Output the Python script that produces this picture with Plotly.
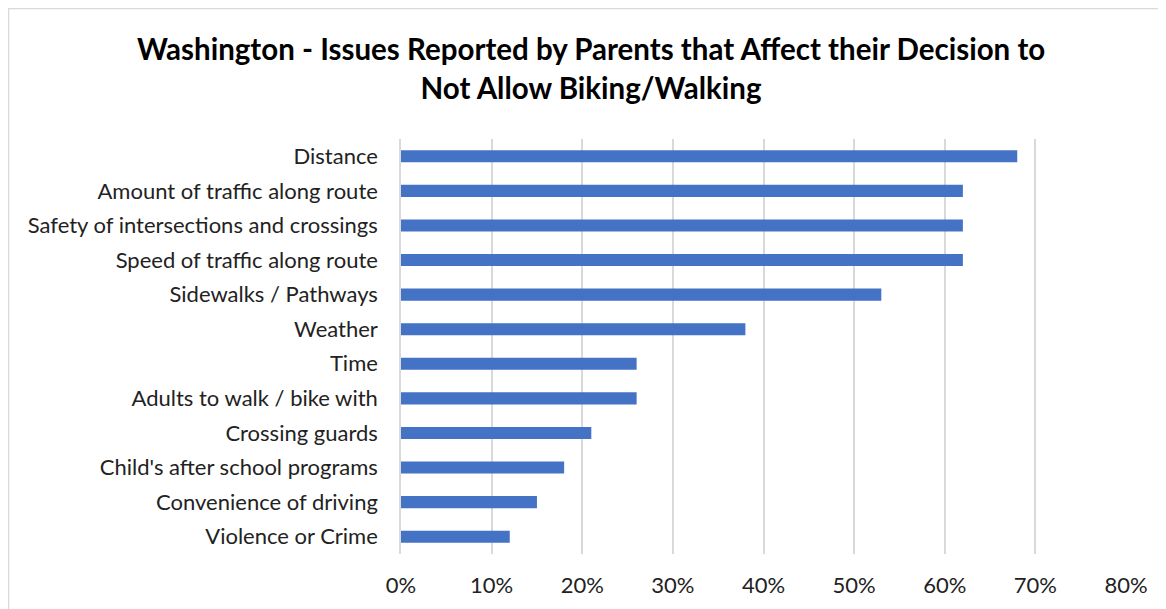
import plotly.graph_objects as go

# survey data, top to bottom as shown
categories = [
    "Distance",
    "Amount of traffic along route",
    "Safety of intersections and crossings",
    "Speed of traffic along route",
    "Sidewalks / Pathways",
    "Weather",
    "Time",
    "Adults to walk / bike with",
    "Crossing guards",
    "Child's after school programs",
    "Convenience of driving",
    "Violence or Crime",
]
percent = [68, 62, 62, 62, 53, 38, 26, 26, 21, 18, 15, 12]
tick_vals = [0, 10, 20, 30, 40, 50, 60, 70, 80]
tick_text = [f"{v}%" for v in tick_vals]

font_family = "Lato, 'Open Sans', sans-serif"

# page body has an 8px margin, so the figure is a little smaller than the window
W, H = 1158, 601
L, R, T, B = 393, 40, 131, 55

fig = go.Figure()
fig.add_trace(go.Bar(
    x=percent, y=categories, orientation='h',
    marker=dict(color='#4472C4', line=dict(width=0)),
    width=0.35,
))

fig.update_layout(
    width=W, height=H,
    margin=dict(l=L, r=R, t=T, b=B),
    paper_bgcolor='white', plot_bgcolor='white',
    showlegend=False,
    title=dict(
        text="<b>Washington - Issues Reported by Parents that Affect their Decision to<br>Not Allow Biking/Walking</b>",
        x=0.5035, xanchor='center', y=0.913, yanchor='middle',
        font=dict(family=font_family, size=29.5, color='black'),
    ),
    font=dict(family=font_family, size=22, color='#222222'),
    bargap=0.65,
)

fig.update_xaxes(
    range=[0, 80], tickvals=tick_vals, ticktext=tick_text,
    showgrid=True, gridcolor='#d9d9d9', gridwidth=1.5,
    zeroline=False, showline=False,
    ticks='', ticklabelstandoff=16,
    tickfont=dict(size=22, color='#222222'),
)
fig.update_yaxes(
    autorange='reversed',
    showgrid=False, zeroline=False,
    showline=True, linecolor='#d9d9d9', linewidth=1.5,
    ticks='', ticklabelstandoff=17,
    tickfont=dict(size=22, color='#222222'),
)

# light chart frame, cut off at right/bottom
pw, ph = W - L - R, H - T - B
fig.add_shape(
    type='rect', xref='paper', yref='paper',
    x0=(0.5 - L) / pw, x1=(W + 20 - L) / pw,
    y0=-(B + 20) / ph, y1=1 + (T - 0.5) / ph,
    line=dict(color='#d9d9d9', width=1.5), layer='below',
)

fig.write_html("out.html")
